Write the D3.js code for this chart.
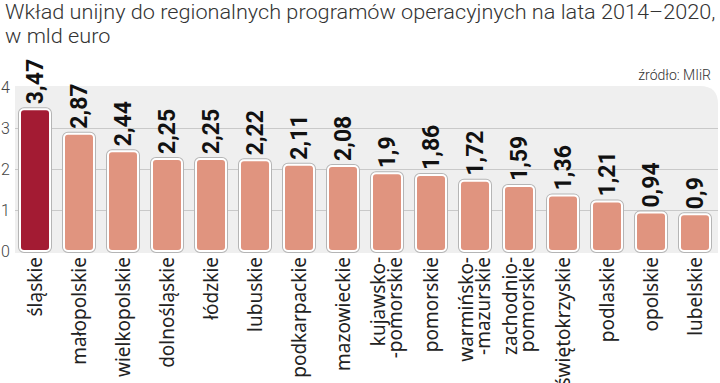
<!DOCTYPE html>
<html><head><meta charset="utf-8">
<script src="https://cdn.jsdelivr.net/npm/d3@7"></script>
<style>body{margin:0;background:#fff}svg{display:block}</style>
</head><body>
<svg id="c" width="720" height="383"></svg>
<script>
const categories = ["śląskie","małopolskie","wielkopolskie","dolnośląskie","łódzkie","lubuskie","podkarpackie","mazowieckie","kujawsko-\n-pomorskie","pomorskie","warmińsko-\n-mazurskie","zachodnio-\npomorskie","świętokrzyskie","podlaskie","opolskie","lubelskie"];
const values = [3.47,2.87,2.44,2.25,2.25,2.22,2.11,2.08,1.9,1.86,1.72,1.59,1.36,1.21,0.94,0.9];
const yTicks = [0,1,2,3,4];
const titleLines = ["Wkład unijny do regionalnych programów operacyjnych na lata 2014–2020,","w mld euro"];
const source = "źródło: MIiR";

const svg = d3.select("#c");
const x = d3.scaleBand().domain(d3.range(categories.length)).range([13,717]).paddingInner(0.318).paddingOuter(0.159);
const y = d3.scaleLinear().domain([0,4]).range([251,87.5]);

// panel
const px0=15, px1=718, py0=86, py1=253, r=18;
svg.append("path")
  .attr("d",`M${px0},${py1} L${px0},${py0} L${px1-r},${py0} Q${px1},${py0} ${px1},${py0+r} L${px1},${py1} Z`)
  .attr("fill","#efefef");

// gridlines
svg.append("g").selectAll("line").data(yTicks.filter(t=>t>0&&t<4)).join("line")
  .attr("x1",px0).attr("x2",px1).attr("y1",d=>Math.round(y(d))+0.5).attr("y2",d=>Math.round(y(d))+0.5)
  .attr("stroke","#c9c9c9").attr("stroke-width",1);

// y tick labels
svg.append("g").selectAll("text").data(yTicks).join("text")
  .attr("x",1).attr("y",d=>y(d)).attr("dy","0.36em")
  .attr("font-family","Roboto").attr("font-weight",300).attr("font-size",16).attr("fill","#444")
  .text(d=>d);

// bars
const bars = svg.append("g");
bars.selectAll("rect.o").data(values).join("rect").attr("class","o")
  .attr("x",(d,i)=>x(i)).attr("width",x.bandwidth())
  .attr("y",d=>y(d)).attr("height",d=>y(0)-y(d))
  .attr("rx",4).attr("fill","none").attr("stroke","#b5b5b5").attr("stroke-width",4);
bars.selectAll("rect.b").data(values).join("rect").attr("class","b")
  .attr("x",(d,i)=>x(i)).attr("width",x.bandwidth())
  .attr("y",d=>y(d)).attr("height",d=>y(0)-y(d))
  .attr("rx",4).attr("fill",(d,i)=>i===0?"#a31b33":"#e0947f").attr("stroke","#fff").attr("stroke-width",2);

// value labels
svg.append("g").selectAll("text").data(values).join("text")
  .attr("transform",(d,i)=>`translate(${x(i)+x.bandwidth()/2},${y(d)-5}) rotate(-90)`)
  .attr("dy","0.36em")
  .attr("font-family","Roboto").attr("font-weight",700).attr("font-size",23).attr("fill","#111")
  .text(d=>String(d).replace(".",","));

// category labels
const cg = svg.append("g");
categories.forEach((c,i)=>{
  const lines = c.split("\n");
  const cx = x(i)+x.bandwidth()/2;
  lines.forEach((ln,j)=>{
    const off = (j-(lines.length-1)/2)*17;
    cg.append("text")
      .attr("transform",`translate(${cx+off},257) rotate(-90)`)
      .attr("text-anchor","end").attr("dy","0.36em")
      .attr("font-family","Noto Sans").attr("font-size",19).attr("fill","#222")
      .text(ln);
  });
});

// title (stretched horizontally to the reference width)
const tg = svg.append("g");
const tt = tg.selectAll("text").data(titleLines).join("text")
  .attr("x",0).attr("y",(d,i)=>19+i*24)
  .attr("font-family","Roboto").attr("font-weight",300).attr("font-size",21).attr("fill","#333")
  .text(d=>d);
const w0 = tt.node().getComputedTextLength();
const sx = w0>0 ? 711/w0 : 1;
tg.attr("transform",`translate(5,0) scale(${sx},1)`);

// source
svg.append("text").attr("x",711).attr("y",80).attr("text-anchor","end")
  .attr("font-family","Roboto").attr("font-weight",300).attr("font-size",14).attr("fill","#333")
  .text(source);
</script>
</body></html>
